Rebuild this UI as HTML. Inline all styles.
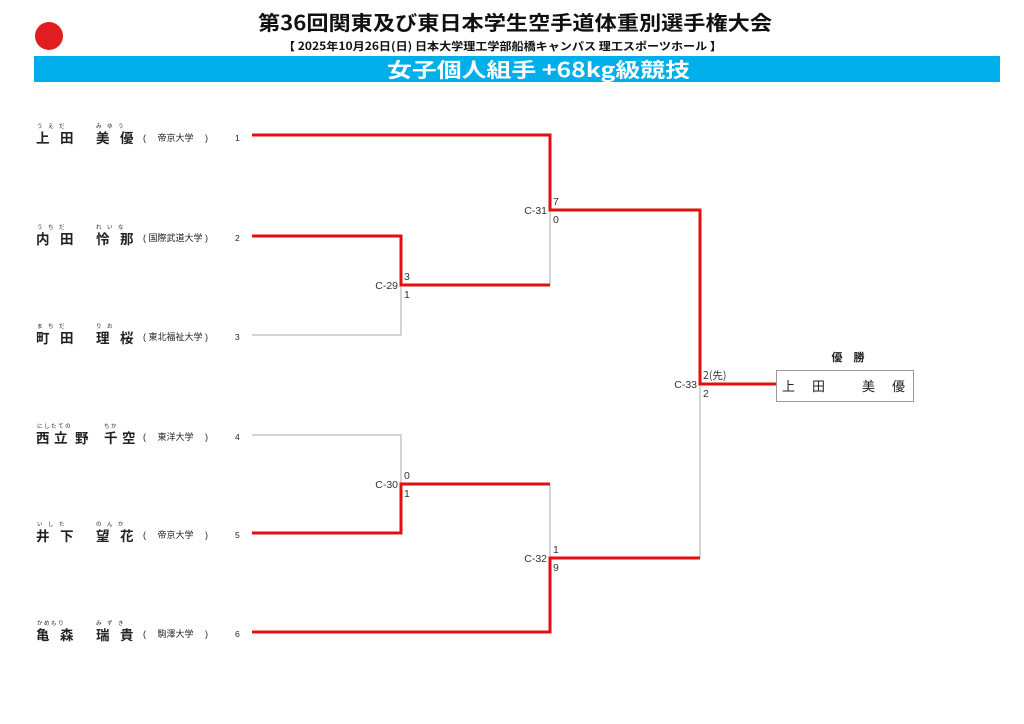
<!DOCTYPE html>
<html><head><meta charset="utf-8"><style>
html,body{margin:0;padding:0;background:#fff;}
svg{display:block;}
text{font-family:"Liberation Sans","Noto Sans CJK JP",sans-serif;}
.j{font-family:"Noto Sans CJK JP","Liberation Sans",sans-serif;}
</style></head><body>
<svg width="1024" height="724" viewBox="0 0 1024 724" xmlns="http://www.w3.org/2000/svg">
<circle cx="49" cy="36" r="14" fill="#e21d1d"/>
<text x="258" y="30" class="j" font-size="20" font-weight="bold" textLength="514" lengthAdjust="spacingAndGlyphs" fill="#111">第36回関東及び東日本学生空手道体重別選手権大会</text>
<text x="283" y="50" class="j" font-size="11" font-weight="bold" textLength="439" lengthAdjust="spacingAndGlyphs" fill="#111">【 2025年10月26日(日)  日本大学理工学部船橋キャンパス 理工スポーツホール 】</text>
<rect x="34" y="56" width="966" height="26" fill="#00aeea"/>
<text x="387" y="77" class="j" font-size="20" font-weight="bold" textLength="303" lengthAdjust="spacingAndGlyphs" fill="#fff">女子個人組手 +68kg級競技</text>

<g class="j" fill="#222">
<g font-size="13.5" font-weight="bold">
<text x="36" y="143">上</text><text x="60" y="143">田</text><text x="96" y="143">美</text><text x="120" y="143">優</text>
<text x="36" y="244">内</text><text x="60" y="244">田</text><text x="96" y="244">怜</text><text x="120" y="244">那</text>
<text x="36" y="343">町</text><text x="60" y="343">田</text><text x="96" y="343">理</text><text x="120" y="343">桜</text>
<text x="36" y="443">西</text><text x="54" y="443">立</text><text x="75" y="443">野</text><text x="104" y="443">千</text><text x="122" y="443">空</text>
<text x="36" y="541">井</text><text x="60" y="541">下</text><text x="96" y="541">望</text><text x="120" y="541">花</text>
<text x="36" y="640">亀</text><text x="60" y="640">森</text><text x="96" y="640">瑞</text><text x="120" y="640">貴</text>
</g>
<g font-size="5.5">
<text x="37" y="128">う　え　だ</text><text x="96" y="128">み　ゆ　う</text>
<text x="37" y="229">う　ち　だ</text><text x="96" y="229">れ　い　な</text>
<text x="37" y="328">ま　ち　だ</text><text x="96" y="328">り　お</text>
<text x="37" y="428">に し た て の</text><text x="104" y="428">ち か</text>
<text x="37" y="526">い　し　た</text><text x="96" y="526">の　ん　か</text>
<text x="37" y="625">か め も り</text><text x="96" y="625">み　ず　き</text>
</g>
<g font-size="9">
<text x="143" y="141">(　 帝京大学 　)</text>
<text x="143" y="241">( 国際武道大学 )</text>
<text x="143" y="340">( 東北福祉大学 )</text>
<text x="143" y="440">(　 東洋大学 　)</text>
<text x="143" y="538">(　 帝京大学 　)</text>
<text x="143" y="637">(　 駒澤大学 　)</text>
</g>
<g font-size="8.5">
<text x="235" y="141">1</text><text x="235" y="241">2</text><text x="235" y="340">3</text>
<text x="235" y="440">4</text><text x="235" y="538">5</text><text x="235" y="637">6</text>
</g>
</g>

<g stroke="#aaa" stroke-width="1" fill="none">
<path d="M252 335 H401 V285"/>
<path d="M550 210 V285"/>
<path d="M252 435 H401 V484"/>
<path d="M550 484 V558"/>
<path d="M700 384 V558"/>
</g>
<g stroke="#e01010" stroke-width="3" fill="none">
<path d="M252 135 H550 V210 H700 V384 H776"/>
<path d="M252 236 H401 V285 H550"/>
<path d="M252 533 H401 V484 H550"/>
<path d="M252 632 H550 V558 H700"/>
</g>

<g font-size="10.5" fill="#333">
<text x="398" y="289" text-anchor="end">C-29</text><text x="404" y="280">3</text><text x="404" y="298">1</text>
<text x="547" y="214" text-anchor="end">C-31</text><text x="553" y="205">7</text><text x="553" y="223">0</text>
<text x="398" y="488" text-anchor="end">C-30</text><text x="404" y="479">0</text><text x="404" y="497">1</text>
<text x="547" y="562" text-anchor="end">C-32</text><text x="553" y="553">1</text><text x="553" y="571">9</text>
<text x="697" y="388" text-anchor="end">C-33</text><text x="703" y="379" class="j">2(先)</text><text x="703" y="397">2</text>
</g>

<text x="848" y="361" class="j" font-size="11" font-weight="bold" text-anchor="middle" fill="#222">優　勝</text>
<rect x="776.5" y="370.5" width="137" height="31" fill="#fff" stroke="#999"/>
<g class="j" font-size="13" fill="#222">
<text x="782" y="391">上</text><text x="812" y="391">田</text><text x="862" y="391">美</text><text x="892" y="391">優</text>
</g>
</svg>
</body></html>
